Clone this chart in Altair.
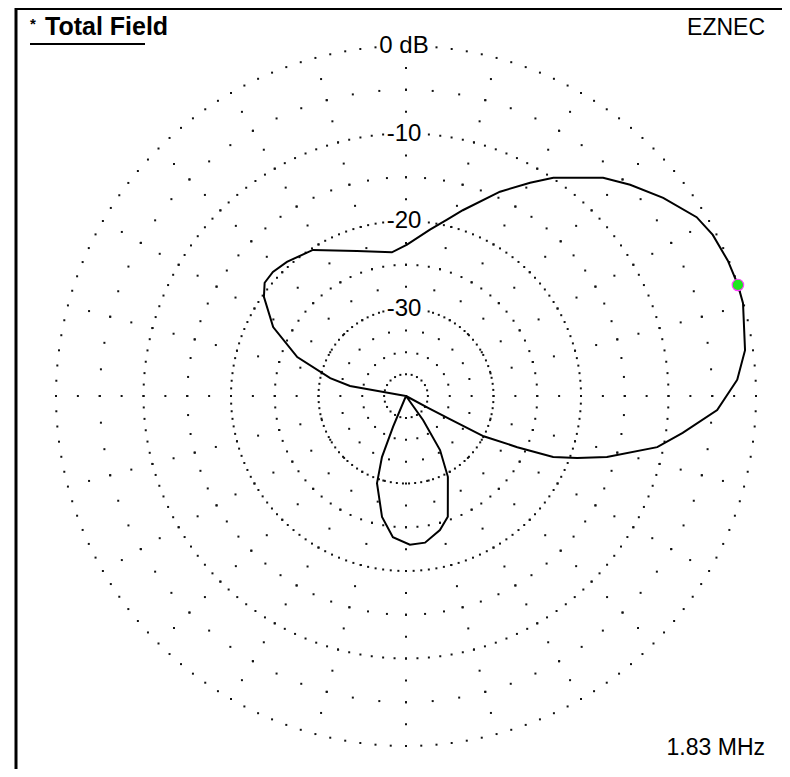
import altair as alt
import numpy as np
import pandas as pd

# ---------------- data ----------------
# Azimuth (deg, counter-clockwise from the right) and relative gain (dB)
azimuth = [2.8, 7.7, 15.4, 18.5, 22.8, 27.7, 31.6, 37.6, 43.3, 47.9, 56.0, 59.8,
           65.3, 73.0, 76.9, 81.8, 89.6, 95.6, 108.7, 122.5, 131.6, 137.0, 141.3,
           145.1, 152.6, 160.3, 166.7, 169.9, 171.5,
           246.0, 247.2, 248.5, 251.6, 258.8, 264.7, 271.5, 277.4, 284.2, 289.1,
           297.4, 302.2, 305.3, 307.0,
           331.0, 331.8, 332.3, 332.6, 335.3, 337.5, 340.1, 343.1, 348.5, 352.4,
           357.4]
gain_db = [-2.1, -0.9, -0.05, 0.0, -0.1, -0.4, -1.0, -2.9, -4.8, -6.4, -9.9, -11.8,
           -14.3, -17.8, -19.3, -20.8, -22.7, -23.5, -22.5, -20.2, -19.5, -19.2, -19.3,
           -20.2, -22.9, -26.8, -31.1, -33.5, -40.0,
           -40.0, -36.2, -32.5, -29.5, -25.9, -23.8, -23.0, -23.1, -24.2, -25.4,
           -29.6, -32.7, -36.6, -40.0,
           -40.0, -37.2, -34.4, -30.0, -26.0, -21.8, -19.2, -16.0, -10.7, -8.1,
           -4.4]

max_az = [18.5]
max_db = [0.0]

ring_levels = [0, -10, -20, -30]
ring_labels = ["0 dB", "-10", "-20", "-30"]
ring_steps = [2.5, 2.5, 2.5, 4.0]
minor_levels = [-5, -15, -25]
spoke_angles = list(range(0, 360, 15))

title_text = "Total Field"
brand_text = "EZNEC"
freq_text = "1.83 MHz"

# ---------------- layout ----------------
W, H = 774, 761
CX, CY = 398, 388          # plot centre inside the svg
PX_PER_DB = 8.75           # 40 dB -> 350 px
FONT = "Liberation Sans"

xscale = alt.Scale(domain=[-CX, W - CX], nice=False, zero=False)
yscale = alt.Scale(domain=[-(H - CY), CY], nice=False, zero=False)

def polar(chart):
    return chart.transform_calculate(
        r=f"(max(datum.db, -40) + 40) * {PX_PER_DB}"
    ).transform_calculate(
        px="datum.r * cos(datum.az * PI / 180)",
        py="datum.r * sin(datum.az * PI / 180)",
    )

X = alt.X("px:Q", scale=xscale, axis=None)
Y = alt.Y("py:Q", scale=yscale, axis=None)

# ---------------- grid dots ----------------
rows = []
for lvl, step in zip(ring_levels, ring_steps):
    for a in np.arange(0, 360, step):
        rows.append((a, lvl))
for lvl in minor_levels:
    for a in np.arange(0, 360, 5.0):
        rows.append((a, lvl))
for a in spoke_angles:
    for k in range(1, 16):
        rows.append((a, -40 + 2.5 * k))
grid = pd.DataFrame(rows, columns=["az", "db"])
r = (grid["db"] + 40) * PX_PER_DB
gx = r * np.cos(np.radians(grid["az"]))
gy = r * np.sin(np.radians(grid["az"]))
keep = np.ones(len(grid), bool)
for lvl in ring_levels:
    rr = (lvl + 40) * PX_PER_DB
    hw = 29 if lvl == 0 else 22
    keep &= ~((np.abs(gx) < hw) & (np.abs(gy - rr) < 12))
grid = grid[keep.values]

dots = polar(alt.Chart(grid)).mark_square(size=4, color="#111111", opacity=1).encode(x=X, y=Y)

# ---------------- pattern ----------------
pat = pd.DataFrame({"az": azimuth, "db": gain_db})
pat = pd.concat([pat, pat.iloc[[0]]], ignore_index=True)
pat["i"] = np.arange(len(pat))
line = polar(alt.Chart(pat)).mark_line(color="black", strokeWidth=2).encode(
    x=X, y=Y, order="i:Q")

marker = polar(alt.Chart(pd.DataFrame({"az": max_az, "db": max_db}))).mark_point(
    shape="circle", filled=True, size=130, color="#1ee61e", stroke="#ff40ff",
    strokeWidth=1.2, opacity=1).encode(x=X, y=Y)

# ---------------- ring labels ----------------
lab = pd.DataFrame({"db": ring_levels, "label": ring_labels})
labels = alt.Chart(lab).transform_calculate(
    px="-2", py=f"(datum.db + 40) * {PX_PER_DB}"
).mark_text(font=FONT, fontSize=24, baseline="alphabetic", dy=7, color="black").encode(
    x=X, y=Y, text="label:N")

# ---------------- texts and frame ----------------
def txt(s, x, y, **kw):
    return alt.Chart(pd.DataFrame({"t": [s]})).mark_text(font=FONT, color="black", **kw).encode(
        x=alt.value(x), y=alt.value(y), text="t:N")

star = txt("*", 22, 21, fontSize=15, fontWeight="bold", align="left", baseline="alphabetic")
title = txt(title_text, 37, 27, fontSize=25, fontWeight="bold", align="left", baseline="alphabetic")
brand = txt(brand_text, 757, 27, fontSize=23, align="right", baseline="alphabetic")
freq = txt(freq_text, 757, 747, fontSize=23, align="right", baseline="alphabetic")

one = pd.DataFrame({"v": [0]})
underline = alt.Chart(one).mark_rule(color="black", strokeWidth=2).encode(
    x=alt.value(22), x2=alt.value(137), y=alt.value(36))
border_top = alt.Chart(one).mark_rule(color="black", strokeWidth=3).encode(
    x=alt.value(7), x2=alt.value(W), y=alt.value(0.5))
border_left = alt.Chart(one).mark_rule(color="black", strokeWidth=3).encode(
    x=alt.value(8), y=alt.value(0), y2=alt.value(H))

chart = alt.layer(
    dots, line, marker, labels, star, title, brand, freq, underline, border_top, border_left
).properties(
    width=W, height=H, padding=0, autosize="none", background="white"
).configure_view(strokeWidth=0)

chart.save("out.html", embed_options={"renderer": "svg", "actions": False})
